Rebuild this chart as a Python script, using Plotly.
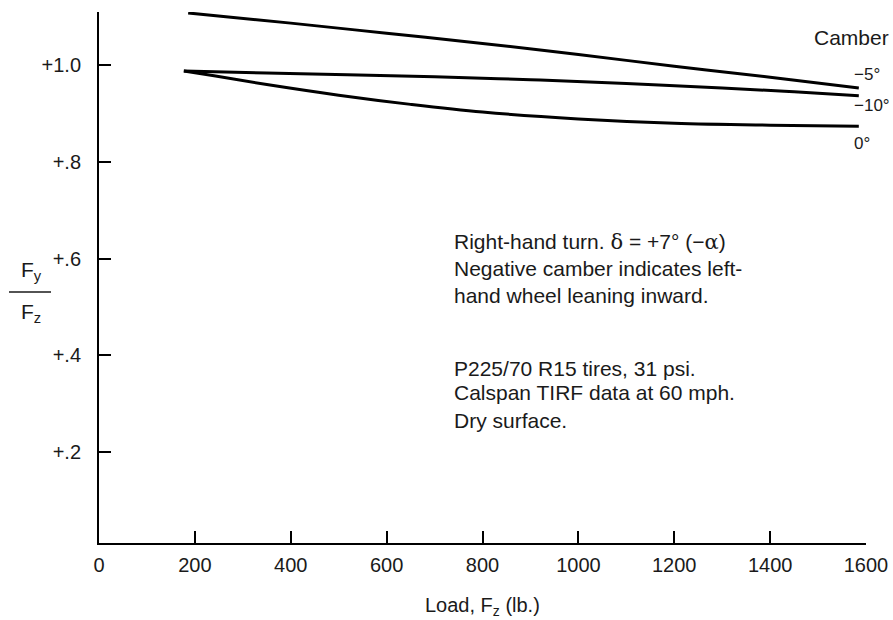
import plotly.graph_objects as go

# Load, Fz (lb.)
load_m5 = [186, 400, 600, 800, 1000, 1200, 1400, 1585]
ratio_m5 = [1.108, 1.087, 1.066, 1.045, 1.022, 0.998, 0.975, 0.953]

load_m10 = [177, 350, 518, 700, 900, 1100, 1300, 1450, 1585]
ratio_m10 = [0.988, 0.984, 0.980, 0.976, 0.970, 0.962, 0.953, 0.945, 0.937]

load_0 = [177, 240, 350, 500, 650, 800, 1000, 1200, 1400, 1585]
ratio_0 = [0.988, 0.978, 0.960, 0.938, 0.919, 0.903, 0.889, 0.880, 0.876, 0.874]

x_ticks = [0, 200, 400, 600, 800, 1000, 1200, 1400, 1600]
x_ticklabels = ["0", "200", "400", "600", "800", "1000", "1200", "1400", "1600"]
y_ticks = [0.2, 0.4, 0.6, 0.8, 1.0]
y_ticklabels = ["+.2", "+.4", "+.6", "+.8", "+1.0"]

FONT = "Liberation Sans, Arial, sans-serif"
INK = "#1a1a1a"

# body margin is removed by post_script, so figure pixels == screen pixels
W, H = 893, 620
L, R, T, B = 99, 27, 12, 77
pw, ph = W - L - R, H - T - B

def px2paper(sx, sy):
    return (sx - L) / pw, (H - B - sy) / ph

fig = go.Figure()
for xs, ys, name in [(load_m5, ratio_m5, "-5°"), (load_m10, ratio_m10, "-10°"), (load_0, ratio_0, "0°")]:
    fig.add_trace(go.Scatter(x=xs, y=ys, mode="lines", name=name,
                             line=dict(color="black", width=3, shape="spline", smoothing=1.0),
                             showlegend=False, hoverinfo="skip"))

anns = []
def txt(sx, sy, s, size=21, xanchor="left"):
    px, py = px2paper(sx, sy)
    anns.append(dict(x=px, y=py, xref="paper", yref="paper", text=s, showarrow=False,
                     xanchor=xanchor, yanchor="middle",
                     font=dict(family=FONT, size=size, color=INK)))

greek = "font-family:DejaVu Serif, serif"
txt(452, 242, f"Right-hand turn. <span style='{greek}'>δ</span> = +7° (−<span style='{greek}'>α</span>)")
txt(452, 268, "Negative camber indicates left-")
txt(452, 295, "hand wheel leaning inward.")
txt(452, 368, "P225/70 R15 tires, 31 psi.")
txt(452, 393, "Calspan TIRF data at 60 mph.")
txt(452, 420, "Dry surface.")

txt(812, 37, "Camber", size=21)
txt(852, 74, "−5°", size=17)
txt(852, 106, "−10°", size=17)
txt(852, 143, "0°", size=17)

# y-axis title as a fraction F_y / F_z
txt(31, 271, "F<sub>y</sub>", size=21, xanchor="center")
txt(31, 313, "F<sub>z</sub>", size=21, xanchor="center")
txt(482, 606, "Load, F<sub>z</sub> (lb.)", size=20, xanchor="center")

bx0, by = px2paper(9, 292)
bx1, _ = px2paper(51, 292)

fig.update_layout(
    width=W, height=H,
    margin=dict(l=L, r=R, t=T, b=B, autoexpand=False),
    paper_bgcolor="white", plot_bgcolor="white",
    annotations=anns,
    shapes=[dict(type="line", xref="paper", yref="paper",
                 x0=bx0, x1=bx1, y0=by, y1=by,
                 line=dict(color=INK, width=1.5))],
    xaxis=dict(range=[0, 1600], tickvals=x_ticks, ticktext=x_ticklabels, automargin=False,
               showgrid=False, zeroline=False, showline=True, linecolor="black", linewidth=2,
               ticks="inside", ticklen=12, tickwidth=2, tickcolor="black",
               tickfont=dict(family=FONT, size=20, color=INK), ticklabelstandoff=3),
    yaxis=dict(range=[0.012, 1.110], tickvals=y_ticks, ticktext=y_ticklabels, automargin=False,
               showgrid=False, zeroline=False, showline=True, linecolor="black", linewidth=2,
               ticks="inside", ticklen=12, tickwidth=2, tickcolor="black",
               tickfont=dict(family=FONT, size=20, color=INK), ticklabelstandoff=12),
    showlegend=False,
)

fig.write_html("out.html", config={"displayModeBar": False},
               post_script="document.body.style.margin='0';document.body.style.overflow='hidden';")
